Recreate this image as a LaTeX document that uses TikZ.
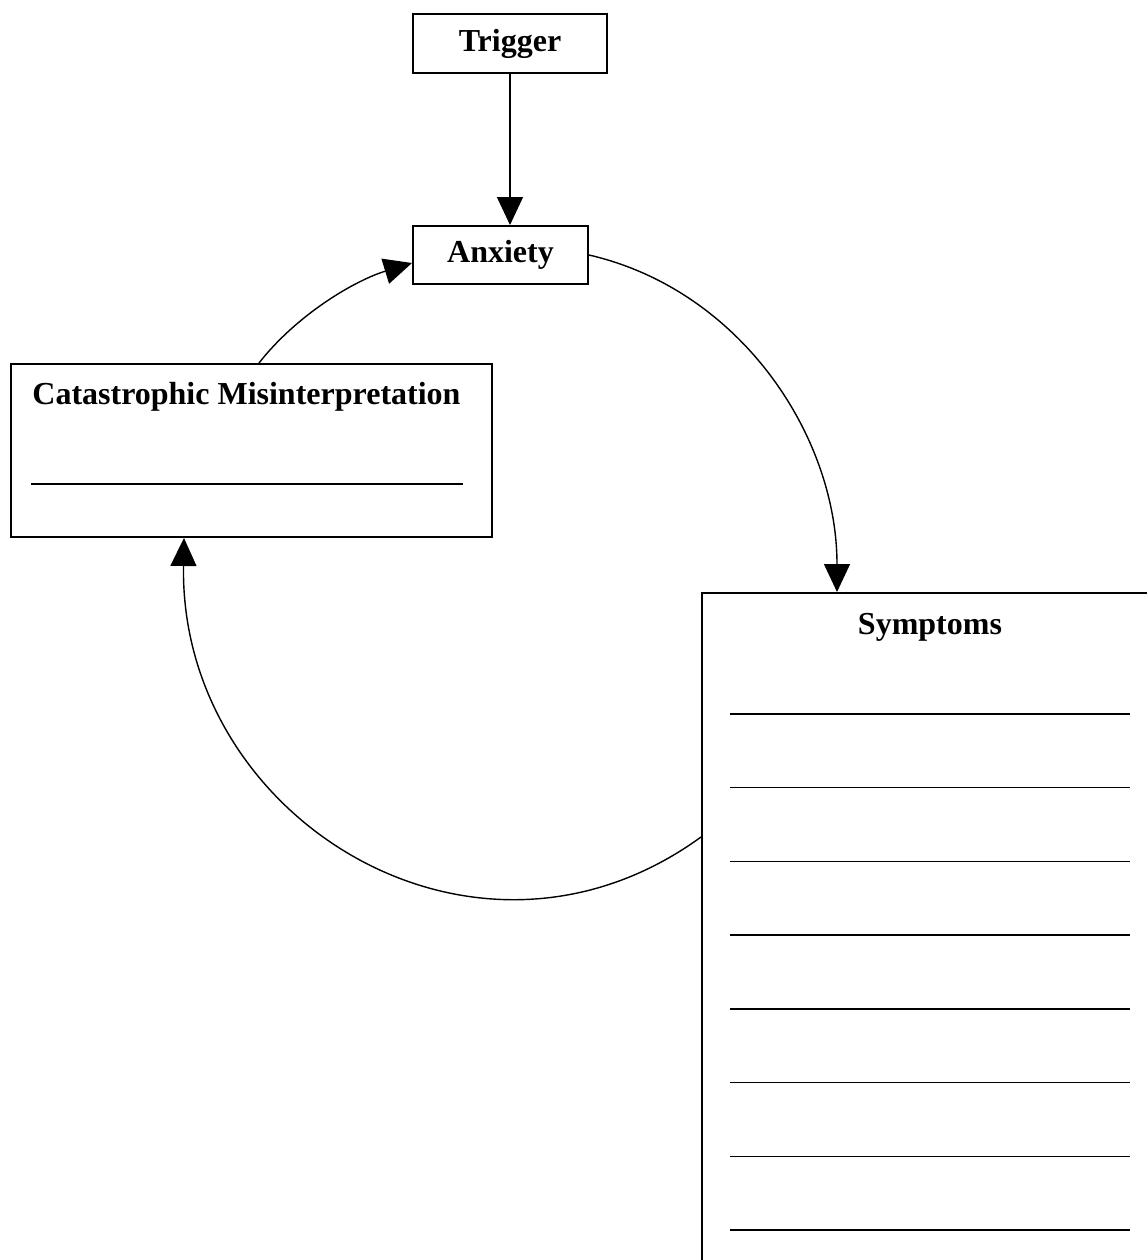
\documentclass[tikz,border=0pt]{standalone}
\usepackage{fontspec}
\setmainfont{Liberation Serif}
\usepackage{tikz}
\usetikzlibrary{arrows.meta,calc}
\tikzset{
  >={Triangle[width=13pt,length=14pt]},
  x=0.5pt, y=0.5pt,
}
\tikzstyle{box}=[draw,line width=1pt,inner sep=0pt]
\tikzstyle{link}=[line width=0.7pt,->]
\tikzstyle{blank}=[line width=0.7pt]
\tikzstyle{every node}=[font=\fontsize{16}{19.5}\selectfont\bfseries]

\begin{document}
\begin{tikzpicture}
  \path[use as bounding box,clip] (0,-1260) rectangle (1147,0);
  \node[box,minimum width=97pt,minimum height=29.5pt] (trig) at (510,-43.5) {Trigger};
  \node[box,minimum width=87.5pt,minimum height=29pt] (anx) at (500.5,-255) {Anxiety};
  \node[box,minimum width=240.5pt,minimum height=86.5pt] (cat) at (251.5,-450.5) {};
  \node[box,minimum width=229pt,minimum height=343.5pt] (sym) at (931,-936.5) {};
  \node[anchor=base west,inner sep=0pt] (cattitle) at (32,-404) {Catastrophic Misinterpretation};
  \node[anchor=base,inner sep=0pt] (symtitle) at (930,-634) {Symptoms};
  % lines to write on
  \draw[blank,line width=0.9pt] (31,-484) -- (463,-484);
  \foreach \k in {0,...,7}
    \draw[blank] (730,-714-73.7*\k) -- (1130,-714-73.7*\k);
  \draw[link] (trig.south) -- (trig.south |- anx.north);
  \draw[link] (anx.east) to[out=-13,in=90,looseness=0.95] ($(sym.north west)+(136,0)$);
  \draw[link] ($(sym.north west)+(0,-245)$) to[out=-144,in=-91,looseness=1.2] ($(cat.south west)+(174,0)$);
  \draw[link] ($(cat.north west)+(249,0)$) to[out=52,in=-163,looseness=0.85] ($(anx.west)+(0,-8)$);
\end{tikzpicture}
\end{document}
